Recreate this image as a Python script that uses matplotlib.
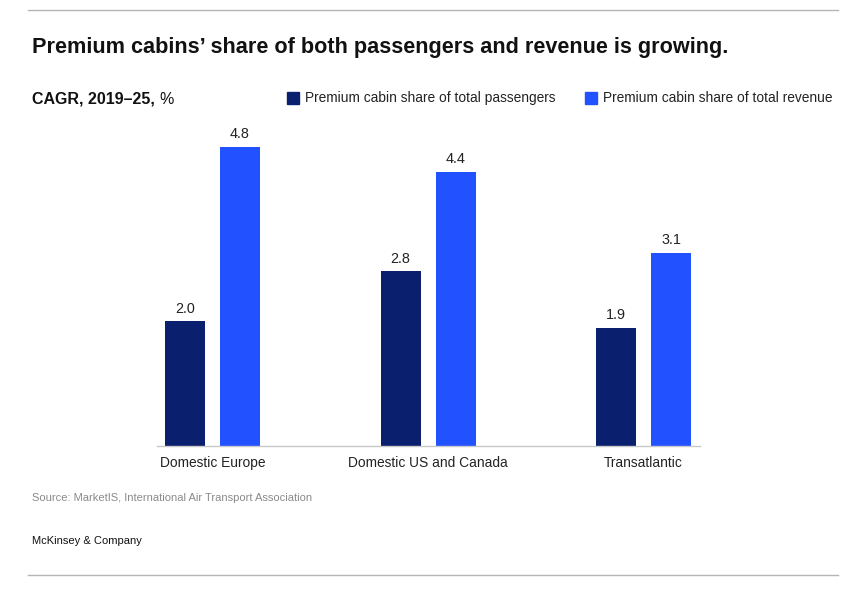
import matplotlib
matplotlib.use('Agg')
import matplotlib.pyplot as plt
import numpy as np

# chart data
categories = ['Domestic Europe', 'Domestic US and Canada', 'Transatlantic']
passengers = [2.0, 2.8, 1.9]
revenue = [4.8, 4.4, 3.1]
series_names = ['Premium cabin share of total passengers',
                'Premium cabin share of total revenue']

DARK = '#0b1f6f'
BLUE = '#2251ff'
W, H = 867, 591

plt.rcParams['font.family'] = ['Liberation Sans', 'DejaVu Sans']

fig = plt.figure(figsize=(W / 100, H / 100), dpi=100)


def fx(px):
    return px / W


def fy(py):
    return 1 - py / H


# axes placed in pixel terms: left 157, right 700, top 128, bottom 446
ax = fig.add_axes([fx(157), fy(446), fx(700 - 157), (446 - 128) / H])

x = np.arange(len(categories))
bw = 0.1856
off = 0.1276
b1 = ax.bar(x - off, passengers, bw, color=DARK)
b2 = ax.bar(x + off, revenue, bw, color=BLUE)

for bars, vals in ((b1, passengers), (b2, revenue)):
    for r, v in zip(bars, vals):
        ax.annotate(f'{v:.1f}', (r.get_x() + r.get_width() / 2, v),
                    xytext=(0, 4), textcoords='offset points',
                    ha='center', va='bottom', fontsize=10.4, color='#222222')

ax.set_xlim(-0.2575, 2.262)
ax.set_ylim(0, 5.1)
ax.set_xticks(x)
ax.set_xticklabels(categories, fontsize=9.9, color='#222222')
ax.tick_params(axis='x', length=0, pad=7.5)
ax.set_yticks([])
for s in ['top', 'right', 'left']:
    ax.spines[s].set_visible(False)
ax.spines['bottom'].set_color('#c8c8c8')
ax.spines['bottom'].set_linewidth(1.0)

# header / footer rules
fig.add_artist(plt.Line2D([fx(28), fx(838)], [fy(10), fy(10)], color='#b5b5b5', lw=1))
fig.add_artist(plt.Line2D([fx(28), fx(838)], [fy(575), fy(575)], color='#b5b5b5', lw=1))

fig.text(fx(32), fy(48), 'Premium cabins\u2019 share of both passengers and revenue is growing.',
         fontsize=15.6, fontweight='bold', va='center', ha='left', color='#111111')

t = fig.text(fx(32), fy(104), 'CAGR, 2019\u201325, ', fontsize=11.5, fontweight='bold',
             va='baseline', ha='left', color='#111111')
fig.canvas.draw()
bb = t.get_window_extent()
fig.text(bb.x1 / W, fy(104), '%', fontsize=11.5, va='baseline', ha='left', color='#111111')

# legend
for sx, tx, col, name in ((287, 305, DARK, series_names[0]), (585, 603, BLUE, series_names[1])):
    fig.add_artist(plt.Rectangle((fx(sx), fy(104)), 12 / W, 12 / H, color=col,
                                 transform=fig.transFigure))
    fig.text(fx(tx), fy(98), name, fontsize=9.9, va='center', ha='left', color='#222222')

fig.text(fx(32), fy(498), 'Source: MarketIS, International Air Transport Association',
         fontsize=8.05, va='center', ha='left', color='#8a8a8a')
fig.text(fx(32), fy(541), 'McKinsey & Company', fontsize=8, va='center', ha='left',
         color='#111111')

fig.savefig('out.png', dpi=100)
